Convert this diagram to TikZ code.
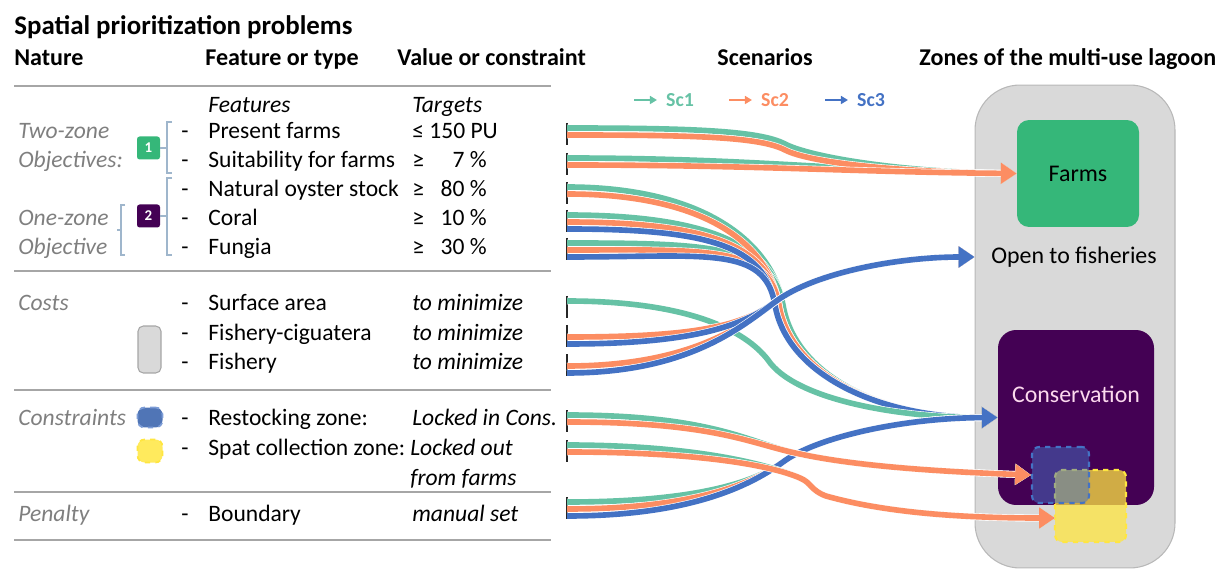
\documentclass[tikz,border=0pt]{standalone}
\usepackage{fontspec}
\setmainfont{Carlito}
\usepackage{tikz}
\usetikzlibrary{arrows.meta,positioning}
\definecolor{scgreen}{HTML}{66C2A5}
\definecolor{scorange}{HTML}{FC8D62}
\definecolor{scblue}{HTML}{4472C4}
\definecolor{farmgreen}{HTML}{35B779}
\definecolor{conspurple}{HTML}{440154}
\definecolor{lagoongray}{HTML}{D9D9D9}
\definecolor{rulegray}{HTML}{A6A6A6}
\definecolor{labelgray}{HTML}{7F7F7F}
\definecolor{bracketblue}{HTML}{9FB6CC}
\definecolor{spatyellow}{HTML}{FFE640}
\tikzset{
  tabtext/.style={anchor=west, inner sep=0pt, text height=9.4pt, text depth=3pt,
    yshift=-1.6pt, font=\fontsize{13.4}{16}\selectfont},
  tabital/.style={tabtext, font=\fontsize{13.4}{16}\selectfont\itshape},
  naturelabel/.style={tabital, text=labelgray},
  headtext/.style={tabtext, font=\fontsize{13.7}{16.4}\selectfont\bfseries},
  titletext/.style={tabtext, font=\fontsize{15.3}{18.4}\selectfont\bfseries},
  tablerule/.style={draw=rulegray, line width=0.8pt},
  bracket/.style={draw=bracketblue, line width=0.7pt},
  badge/.style={rounded corners=1.5pt, minimum width=0.46cm, minimum height=0.46cm,
    inner sep=0pt, text=white, font=\fontsize{8.5}{9}\selectfont\bfseries},
  starttick/.style={draw=black!85, line width=1.1pt},
  flowline/.style={draw=#1, line width=3.2pt, -{Triangle[length=9pt,width=11.5pt]},
    preaction={draw=white, line width=3.9pt}},
  legarrow/.style={draw=#1, line width=1.3pt, -{Triangle[length=4pt,width=4.5pt]}},
  legtext/.style={inner sep=0pt, font=\fontsize{11.3}{13}\selectfont\bfseries},
  zonebox/.style={inner sep=0pt, font=\fontsize{13.6}{16}\selectfont},
}

\begin{document}
\begin{tikzpicture}[x=0.02cm, y=-0.02cm]
  \useasboundingbox (0,0) rectangle (1222,570);

  % headings
  \node[titletext] (title)    at (14,26)  {Spatial prioritization problems};
  \node[headtext]  (hnature)  at (14,57)  {Nature};
  \node[headtext]  (hfeature) at (205,57) {Feature or type};
  \node[headtext]  (hvalue)   at (397,57) {Value or constraint};
  \node[headtext]  (hscen)    at (717,57) {Scenarios};
  \node[headtext]  (hzones)   at (919,57) {Zones of the multi-use lagoon};
  \foreach \y in {86,271,390,492,540}
    \draw[tablerule] (14,\y) -- (551,\y);

  % nature column
  \node[naturelabel] (ntwo)  at (18,130) {Two-zone};
  \node[naturelabel] (nobjs) at (18,159) {Objectives:};
  \node[naturelabel] (none)  at (18,217) {One-zone};
  \node[naturelabel] (nobj)  at (18,246) {Objective};
  \node[naturelabel] (ncost) at (18,302) {Costs};
  \node[naturelabel] (ncons) at (18,417) {Constraints};
  \node[naturelabel] (npen)  at (18,513) {Penalty};

  % keys
  \node[badge, fill=farmgreen]  (b1) at (148.5,148) {1};
  \node[badge, fill=conspurple] (b2) at (148.5,216) {2};
  \draw[bracket] (172,122) -- (167,122) -- (167,173) -- (172,173);
  \draw[bracket] (167,148) -- (b1.east);
  \draw[bracket] (172,178) -- (167,178) -- (167,255) -- (172,255);
  \draw[bracket] (167,216) -- (b2.east);
  \draw[bracket] (125,205) -- (121,205) -- (121,255) -- (125,255);
  \draw[bracket] (121,230) -- (117,230);
  \node[fill=lagoongray, draw=rulegray, line width=0.6pt, rounded corners=3pt,
    minimum width=0.46cm, minimum height=0.94cm, inner sep=0pt] (costkey) at (149.5,349.5) {};
  \node[fill=scblue!80!gray, draw=scblue!70!white, dashed, line width=1pt, rounded corners=4pt,
    minimum width=0.5cm, minimum height=0.4cm, inner sep=0pt] (restockkey) at (150,417.5) {};
  \node[fill=spatyellow!85!white, draw=spatyellow, dashed, line width=1pt, rounded corners=4pt,
    minimum width=0.5cm, minimum height=0.46cm, inner sep=0pt] (spatkey) at (150,451) {};

  % features and values
  \node[tabital] (featcap) at (208,104) {Features};
  \node[tabital] (targcap) at (412,104) {Targets};
  \foreach \y/\f in {130/Present farms, 159/Suitability for farms, 188/Natural oyster stock,
      217/Coral, 246/Fungia, 302/Surface area, 332/Fishery-ciguatera, 361/Fishery,
      417/Restocking zone:, 447/Spat collection zone:, 513/Boundary} {
    \node[tabtext, anchor=center] (dash\y) at (185,\y) {-};
    \node[tabtext] (feat\y) at (208,\y) {\f};
  }
  \node[tabtext] (val130) at (412,130) {≤ 150 PU};
  \foreach \y/\v in {159/7, 188/80, 217/10, 246/30} {
    \node[tabtext] (ge\y) at (412,\y) {≥};
    \node[tabtext, anchor=east] (val\y) at (487,\y) {\v{} \%};
  }
  \foreach \y in {302,332,361}
    \node[tabital] (val\y) at (412,\y) {to minimize};
  \node[tabital] (val417) at (412,417) {Locked in Cons.};
  \node[tabital] (val447) at (410,447) {Locked out};
  \node[tabital] (val477) at (410,477) {from farms};
  \node[tabital] (val513) at (412,513) {manual set};

  % zones of the lagoon
  \node[fill=lagoongray, draw=rulegray!80, line width=0.6pt, rounded corners=0.9cm,
    minimum width=4cm, minimum height=9.66cm, inner sep=0pt] (lagoon) at (1075,326.5) {};
  \node[zonebox, fill=farmgreen, rounded corners=0.24cm,
    minimum width=2.44cm, minimum height=2.14cm] (farms) at (1078,173.5) {Farms};
  \node[zonebox] (open) at (1074,257) {Open to fisheries};
  \coordinate (openin) at (open.west -| lagoon.west);
  \node[zonebox, fill=conspurple, rounded corners=0.36cm,
    minimum width=3.12cm, minimum height=3.5cm] (cons) at (1076,417.5) {};
  \node[zonebox, text=white!85!magenta] (constext) at (1076,394) {Conservation};
  \node[fill=spatyellow, fill opacity=0.75, draw=spatyellow, dashed, line width=1.2pt,
    rounded corners=4pt, minimum width=1.42cm, minimum height=1.44cm] (spat) at (1090.5,506) {};
  \node[fill=scblue, fill opacity=0.5, draw=scblue, dashed, line width=1.2pt,
    rounded corners=4pt, minimum width=1.14cm, minimum height=1.12cm] (restock) at (1060.5,475) {};
  \coordinate (spatin) at (1055,518);

  % scenario legend
  \node[legtext, text=scgreen]  (sc1) at (680,100) {Sc1};
  \node[legtext, text=scorange] (sc2) at (775,100) {Sc2};
  \node[legtext, text=scblue]   (sc3) at (871,100) {Sc3};
  \foreach \n/\c in {sc1/scgreen, sc2/scorange, sc3/scblue}
    \draw[legarrow=\c] ([xshift=-18pt]\n.west) -- ([xshift=-5pt]\n.west);

  % start ticks
  \foreach \r/\y in {pf/128, su/158, no/187, co/215, fu/243, sa/301,
      fc/330, fi/359, re/415, sp/445, bo/502} {
    \coordinate (\r-g) at (567,\y);
    \coordinate (\r-o) at (567,\y+7);
    \coordinate (\r-b) at (567,\y+14);
    \draw[starttick] (\r-g) ++(0,-5) -- ++(0,22);
  }

  % flows to farms
  \foreach \k/\c/\d in {g/scgreen/-3, o/scorange/3} {
    \draw[flowline=\c] (pf-\k) .. controls +(130,0) and (760,134+\d) .. (785,147+\d)
      .. controls (810,160+\d) and (900,172) .. (farms.west);
    \draw[flowline=\c] (su-\k) .. controls +(190,0) and (850,172) .. (farms.west);
  }
  % flows to conservation
  \foreach \r/\k/\c/\d in {no/g/scgreen/5, co/g/scgreen/5, fu/g/scgreen/5,
      no/o/scorange/1, co/o/scorange/1, fu/o/scorange/1, co/b/scblue/-3, fu/b/scblue/-3}
    \draw[flowline=\c] (\r-\k) .. controls +(140,0) and (768+\d,245) .. (778+\d,305)
      .. controls (790+\d,375) and (880,418) .. (cons.west);
  \draw[flowline=scgreen] (sa-g) .. controls +(120,0) and (745,330) .. (768,360)
    .. controls (795,400) and (900,418) .. (cons.west);
  % flows to open fisheries
  \foreach \r/\k/\c in {fc/o/scorange, fi/o/scorange, fc/b/scblue, fi/b/scblue}
    \draw[flowline=\c] (\r-\k) .. controls +(120,0) and (740,328) .. (775,302)
      .. controls (815,272) and (900,257) .. (openin);
  % boundary, restocking and spat flows
  \foreach \k/\c in {g/scgreen, o/scorange, b/scblue}
    \draw[flowline=\c] (bo-\k) .. controls +(130,0) and (755,482) .. (783,462)
      .. controls (815,438) and (900,418) .. (cons.west);
  \foreach \k/\c in {g/scgreen, o/scorange} {
    \draw[flowline=\c] (re-\k) .. controls +(150,0) and (750,444) .. (800,454)
      .. controls (860,467) and (950,472) .. (restock.west);
    \draw[flowline=\c] (sp-\k) .. controls +(130,0) and (770,465) .. (800,478)
      .. controls (812,483) and (810,490) .. (826,496)
      .. controls (890,514) and (970,518) .. (spatin);
  }
\end{tikzpicture}
\end{document}
